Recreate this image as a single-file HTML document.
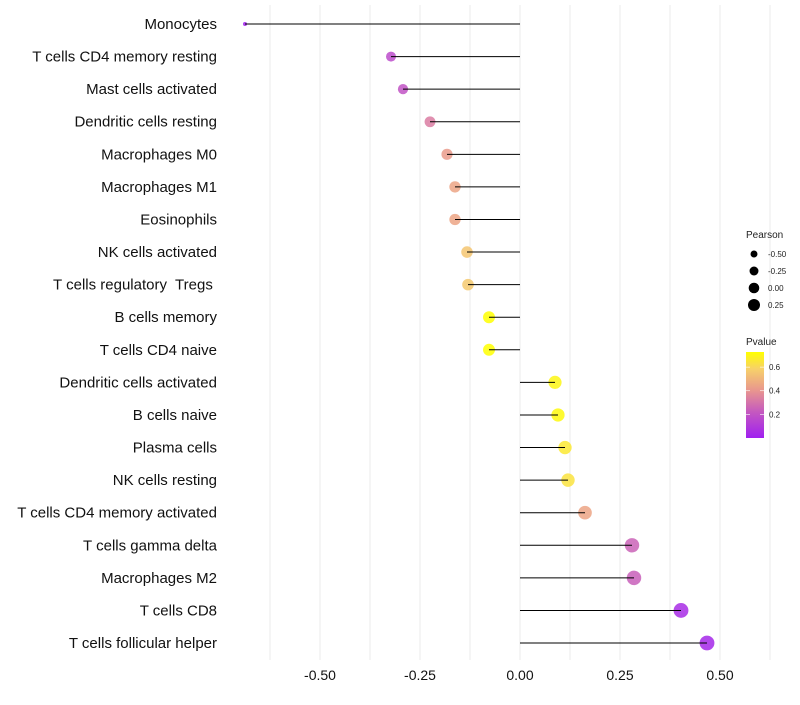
<!DOCTYPE html>
<html><head><meta charset="utf-8"><style>
body{margin:0;background:#fff;font-family:"Liberation Sans",sans-serif}
svg text{font-family:"Liberation Sans",sans-serif;white-space:pre}
</style></head><body>
<svg id="c" width="800" height="700"></svg>
<script>
const categories=["Monocytes","T cells CD4 memory resting","Mast cells activated","Dendritic cells resting","Macrophages M0","Macrophages M1","Eosinophils","NK cells activated","T cells regulatory  Tregs ","B cells memory","T cells CD4 naive","Dendritic cells activated","B cells naive","Plasma cells","NK cells resting","T cells CD4 memory activated","T cells gamma delta","Macrophages M2","T cells CD8","T cells follicular helper"];
const pearson=[-0.6875,-0.3225,-0.2925,-0.225,-0.1825,-0.1625,-0.1625,-0.1325,-0.13,-0.0775,-0.0775,0.0875,0.095,0.1125,0.12,0.1625,0.28,0.285,0.4025,0.4675];
const pvalue=[0.01,0.17,0.2,0.33,0.42,0.45,0.45,0.55,0.56,0.73,0.73,0.70,0.71,0.66,0.64,0.45,0.25,0.24,0.05,0.03];
const xTicks=[-0.5,-0.25,0,0.25,0.5];
const xTickLabels=["-0.50","-0.25","0.00","0.25","0.50"];
const sizeLegend=[-0.5,-0.25,0,0.25];
const sizeLegendLabels=["-0.50","-0.25","0.00","0.25"];
const pLegend=[0.6,0.4,0.2];
const pLegendLabels=["0.6","0.4","0.2"];
const NS="http://www.w3.org/2000/svg";
const svg=document.getElementById('c');
const x=v=>520+v*400;
const y=i=>24+i*32.58;
function r(v){const a=v<-0.32?4+57*(v+0.69):25+45*(v+0.32);return Math.sqrt(Math.max(3,Math.min(55,a)));}
const rl=v=>Math.sqrt(12+32*(v+0.5));
const pMax=0.728;
const stops=[[0,[160,32,240]],[0.3,[196,88,192]],[0.55,[232,149,143]],[0.8,[247,208,106]],[1,[255,255,0]]];
function col(p){let t=Math.max(0,Math.min(1,p/pMax));for(let k=1;k<stops.length;k++){if(t<=stops[k][0]){const a=stops[k-1],b=stops[k];const f=(t-a[0])/(b[0]-a[0]);const c=a[1].map((v,j)=>Math.round(v+(b[1][j]-v)*f));return `rgb(${c})`;}}return 'rgb(255,255,0)';}
function el(t,a,p){const e=document.createElementNS(NS,t);for(const k in a)e.setAttribute(k,a[k]);(p||svg).appendChild(e);return e;}
for(let v=-0.625;v<=0.626;v+=0.125){const g=el('line',{x1:x(v),x2:x(v),y1:5,y2:660,stroke:'#ebebeb','stroke-width':1});

}
xTicks.forEach((v,i)=>{const t=el('text',{x:x(v),y:680,'text-anchor':'middle','font-size':14,fill:'#111'});t.textContent=xTickLabels[i];

});
categories.forEach((c,i)=>{
const t=el('text',{x:217,y:y(i)+5,'text-anchor':'end','font-size':15,fill:'#111'});t.textContent=c;


const pt=el('circle',{cx:x(pearson[i]),cy:y(i),r:r(pearson[i]),fill:col(pvalue[i]),'fill-opacity':0.85});


const s=el('line',{x1:x(0),x2:x(pearson[i]),y1:y(i),y2:y(i),stroke:'#000','stroke-width':1});


});
let lt=el('text',{x:746,y:238,'font-size':10,fill:'#222'});lt.textContent='Pearson';


sizeLegend.forEach((v,i)=>{const cy=254+i*17;
const c=el('circle',{cx:754,cy:cy,r:rl(v),fill:'#000'});


const t=el('text',{x:768,y:cy+3,'font-size':8,fill:'#222'});t.textContent=sizeLegendLabels[i];

});
lt=el('text',{x:746,y:345,'font-size':10,fill:'#222'});lt.textContent='Pvalue';


const defs=el('defs',{});const lg=el('linearGradient',{id:'pg',x1:0,y1:1,x2:0,y2:0},defs);
stops.forEach(s=>el('stop',{offset:s[0],'stop-color':`rgb(${s[1]})`},lg));
const bar=el('rect',{x:746,y:352,width:18,height:86,fill:'url(#pg)'});


pLegend.forEach((v,i)=>{const yy=438-v/pMax*86;
el('line',{x1:746,x2:750,y1:yy,y2:yy,stroke:'#fff','stroke-width':0.6});el('line',{x1:760,x2:764,y1:yy,y2:yy,stroke:'#fff','stroke-width':0.6});
const t=el('text',{x:769,y:yy+3,'font-size':8,fill:'#222'});t.textContent=pLegendLabels[i];

});
</script>
</body></html>
